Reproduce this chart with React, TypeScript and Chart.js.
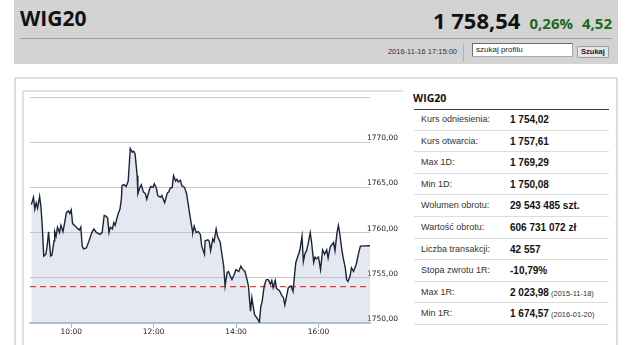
import React, { useEffect, useRef } from "react";
import { Chart, registerables } from "chart.js";

Chart.register(...registerables);

// ---- data ----
const indexName = "WIG20";
const lastPrice = "1 758,54";
const changePct = "0,26%";
const changeAbs = "4,52";
const quoteTime = "2016-11-16 17:15:00";
const referenceLevel = 1754.02;

const sessionStart = "9:00";
const sessionEnd = "17:15";

const times = [
  "9:02", "9:05", "9:07", "9:09", "9:11", "9:14", "9:16", "9:18", "9:20", "9:23",
  "9:25", "9:27", "9:30", "9:32", "9:35", "9:36", "9:38", "9:40", "9:43", "9:45",
  "9:48", "9:50", "9:53", "9:56", "9:58", "10:00", "10:02", "10:06", "10:10", "10:12",
  "10:14", "10:16", "10:18", "10:22", "10:26", "10:30", "10:33", "10:37", "10:42", "10:45",
  "10:48", "10:51", "10:53", "10:55", "10:57", "11:00", "11:02", "11:04", "11:08", "11:11",
  "11:13", "11:14", "11:17", "11:20", "11:23", "11:26", "11:29", "11:31", "11:33", "11:36",
  "11:37", "11:40", "11:42", "11:45", "11:48", "11:50", "11:54", "11:56", "11:59", "12:01",
  "12:04", "12:06", "12:10", "12:12", "12:15", "12:16", "12:20", "12:22", "12:24", "12:27",
  "12:29", "12:32", "12:34", "12:36", "12:39", "12:41", "12:45", "12:48", "12:50", "12:53",
  "12:56", "12:57", "12:59", "13:02", "13:05", "13:08", "13:10", "13:14", "13:15", "13:19",
  "13:21", "13:23", "13:26", "13:28", "13:31", "13:33", "13:37", "13:39", "13:42", "13:44",
  "13:47", "13:49", "13:51", "13:54", "13:57", "14:00", "14:04", "14:07", "14:10", "14:13",
  "14:16", "14:18", "14:21", "14:23", "14:25", "14:27", "14:30", "14:34", "14:36", "14:38",
  "14:41", "14:44", "14:47", "14:50", "14:52", "14:54", "14:57", "14:59", "15:03", "15:07",
  "15:09", "15:11", "15:14", "15:16", "15:20", "15:23", "15:25", "15:27", "15:31", "15:33",
  "15:36", "15:38", "15:40", "15:43", "15:45", "15:48", "15:50", "15:53", "15:55", "15:57",
  "16:00", "16:03", "16:06", "16:09", "16:12", "16:14", "16:17", "16:19", "16:22", "16:24",
  "16:27", "16:29", "16:31", "16:34", "16:36", "16:39", "16:41", "16:43", "16:46", "16:48",
  "16:51", "16:55", "16:58", "17:01", "17:15",
];

const values = [
  1763.1, 1763.9, 1762.6, 1763.3, 1762.7, 1764.0, 1762.8, 1760.5, 1757.4, 1757.6,
  1758.5, 1760.1, 1757.4, 1757.5, 1759.1, 1760.1, 1759.6, 1760.6, 1760.0, 1760.8,
  1760.1, 1760.9, 1762.2, 1762.4, 1762.1, 1762.5, 1761.0, 1760.7, 1760.4, 1760.3,
  1760.6, 1758.5, 1758.2, 1758.3, 1759.1, 1760.0, 1760.4, 1760.0, 1759.8, 1760.0,
  1761.9, 1761.8, 1761.6, 1760.0, 1760.6, 1760.4, 1761.1, 1760.8, 1762.0, 1762.6,
  1763.7, 1765.2, 1765.3, 1765.1, 1765.7, 1769.3, 1768.9, 1769.0, 1768.7, 1766.3,
  1764.3, 1765.0, 1765.3, 1764.5, 1764.3, 1763.7, 1764.8, 1765.1, 1765.0, 1765.4,
  1764.9, 1764.1, 1763.9, 1764.1, 1763.5, 1763.3, 1764.4, 1764.5, 1764.9, 1765.0,
  1766.3, 1765.7, 1765.9, 1765.6, 1765.8, 1765.2, 1765.0, 1764.3, 1763.3, 1761.8,
  1760.4, 1760.0, 1760.7, 1760.0, 1760.1, 1759.8, 1758.5, 1757.6, 1759.1, 1759.2,
  1759.0, 1758.0, 1759.3, 1759.0, 1760.4, 1759.6, 1758.9, 1757.8, 1756.3, 1754.1,
  1755.6, 1755.7, 1755.3, 1754.8, 1755.3, 1755.9, 1755.7, 1756.3, 1755.9, 1755.7,
  1754.8, 1754.1, 1751.3, 1752.8, 1751.8, 1750.9, 1750.6, 1750.1, 1751.8, 1752.4,
  1754.1, 1754.8, 1754.8, 1754.3, 1754.7, 1753.9, 1754.7, 1753.8, 1753.6, 1753.0,
  1752.8, 1752.0, 1753.1, 1753.9, 1754.1, 1753.5, 1755.2, 1756.7, 1757.6, 1758.1,
  1759.6, 1756.8, 1757.6, 1758.1, 1758.8, 1760.0, 1758.9, 1756.7, 1757.3, 1757.1,
  1757.3, 1755.9, 1758.1, 1757.6, 1758.1, 1757.2, 1758.4, 1758.6, 1758.9, 1758.0,
  1760.0, 1760.8, 1759.9, 1758.1, 1757.2, 1756.1, 1754.8, 1754.6, 1755.2, 1756.1,
  1755.7, 1756.5, 1757.6, 1758.5, 1758.54,
];

const xTickLabels = ["10:00", "12:00", "14:00", "16:00"];
const yTickValues = [1750, 1755, 1760, 1765, 1770, 1775];

const tableLabels = [
  "Kurs odniesienia:",
  "Kurs otwarcia:",
  "Max 1D:",
  "Min 1D:",
  "Wolumen obrotu:",
  "Wartość obrotu:",
  "Liczba transakcji:",
  "Stopa zwrotu 1R:",
  "Max 1R:",
  "Min 1R:",
];
const tableValues = [
  "1 754,02",
  "1 757,61",
  "1 769,29",
  "1 750,08",
  "29 543 485 szt.",
  "606 731 072 zł",
  "42 557",
  "-10,79%",
  "2 023,98",
  "1 674,57",
];
const tableNotes = ["", "", "", "", "", "", "", "", "(2015-11-18)", "(2016-01-20)"];

// ---- helpers ----
const toMinutes = (t: string) => {
  const [h, m] = t.split(":").map(Number);
  return h * 60 + m;
};
const toLabel = (mins: number) => {
  const h = Math.floor(mins / 60);
  const m = Math.round(mins % 60);
  return `${h < 10 ? "0" + h : h}:${m < 10 ? "0" + m : m}`;
};
const fmtLevel = (v: number) => v.toFixed(2).replace(".", ",");

const AXIS_FONT = "'DejaVu Sans', 'Liberation Sans', sans-serif";

function PriceChart() {
  const ref = useRef<HTMLCanvasElement | null>(null);
  useEffect(() => {
    if (!ref.current) return;
    const xMin = toMinutes(sessionStart);
    const xMax = toMinutes(sessionEnd);
    const series = times.map((t, i) => ({ x: toMinutes(t), y: values[i] }));
    const refLine = [
      { x: xMin, y: referenceLevel },
      { x: xMax, y: referenceLevel },
    ];
    const chart = new Chart(ref.current, {
      type: "line",
      data: {
        datasets: [
          {
            data: series,
            borderColor: "#1b2437",
            borderWidth: 1.4,
            backgroundColor: "rgba(178,188,214,0.34)",
            fill: "start",
            pointRadius: 0,
            tension: 0,
            order: 0,
          },
          {
            data: refLine,
            borderColor: "rgba(228,40,40,0.9)",
            borderWidth: 1.3,
            borderDash: [6, 4],
            fill: false,
            pointRadius: 0,
            order: 1,
          },
        ],
      },
      options: {
        animation: false,
        responsive: false,
        maintainAspectRatio: false,
        devicePixelRatio: 1,
        layout: { padding: { left: 6, top: 5, right: 0, bottom: 0 } },
        plugins: {
          legend: { display: false },
          tooltip: { enabled: false },
          filler: { drawTime: "beforeDatasetsDraw" },
        } as any,
        scales: {
          x: {
            type: "linear",
            min: xMin,
            max: xMax,
            afterBuildTicks: (s: any) => {
              s.ticks = xTickLabels.map((l) => ({ value: toMinutes(l) }));
            },
            afterFit: (s: any) => {
              s.height = 22;
            },
            grid: {
              drawOnChartArea: false,
              drawTicks: true,
              tickLength: 5,
              color: "#a8bcd4",
              lineWidth: 1,
            },
            border: { display: true, color: "#a8bcd4", width: 1.5 },
            ticks: {
              autoSkip: false,
              maxRotation: 0,
              padding: 0,
              color: "#222",
              font: { family: AXIS_FONT, size: 7.5 },
              callback: (v: any) => toLabel(Number(v)),
            },
          },
          y: {
            position: "right",
            min: yTickValues[0],
            max: yTickValues[yTickValues.length - 1],
            afterBuildTicks: (s: any) => {
              s.ticks = yTickValues.map((v) => ({ value: v }));
            },
            afterFit: (s: any) => {
              s.width = 32;
              // let the labels overlap the end of the grid lines (no clipping to the axis box)
              s._computeLabelArea = () => undefined;
            },
            grid: { color: "#c8c8c8", lineWidth: 1, drawTicks: false },
            border: { display: false },
            ticks: {
              padding: -3,
              labelOffset: -4,
              color: "#222",
              font: { family: AXIS_FONT, size: 7.5 },
              callback: (v: any) =>
                Number(v) === yTickValues[yTickValues.length - 1] ? "" : fmtLevel(Number(v)),
            },
          },
        },
      } as any,
    });
    return () => chart.destroy();
  }, []);
  return (
    <canvas
      ref={ref}
      width={378}
      height={253}
      style={{ position: "absolute", left: 24, top: 92, width: 378, height: 253 }}
    />
  );
}

const abs = (s: React.CSSProperties): React.CSSProperties => ({ position: "absolute", ...s });

export default function App() {
  const rowTop = 109;
  const rowH = 21.6;
  return (
    <div
      style={{
        position: "fixed",
        left: 0,
        top: 0,
        width: 640,
        height: 345,
        overflow: "hidden",
        background: "#fff",
        fontFamily: "'Liberation Sans', Arial, sans-serif",
      }}
    >
      {/* header band */}
      <div style={abs({ left: 14, top: 0, width: 604, height: 64, background: "#d3d3d3" })} />
      <div
        style={abs({
          left: 20,
          top: 8,
          fontFamily: "'Open Sans', sans-serif",
          fontWeight: 700,
          fontSize: 21,
          lineHeight: "21px",
          color: "#111",
        })}
      >
        {indexName}
      </div>
      <div
        style={abs({
          right: 28,
          top: 8.5,
          display: "flex",
          alignItems: "baseline",
          gap: 9,
          fontFamily: "'Open Sans', sans-serif",
          fontWeight: 700,
          whiteSpace: "nowrap",
        })}
      >
        <span style={{ fontSize: 22, lineHeight: "22px", color: "#111" }}>{lastPrice}</span>
        <span style={{ fontSize: 15, lineHeight: "15px", color: "#1c6b1c" }}>{changePct}</span>
        <span style={{ fontSize: 15, lineHeight: "15px", color: "#1c6b1c" }}>{changeAbs}</span>
      </div>
      <div style={abs({ left: 20, top: 38, width: 592, height: 1, background: "#97a09b" })} />
      <div
        style={abs({
          right: 183,
          top: 48,
          fontSize: 7.5,
          lineHeight: "8px",
          color: "#333",
          whiteSpace: "nowrap",
        })}
      >
        {quoteTime}
      </div>
      <div style={abs({ left: 463, top: 43, width: 1, height: 19, background: "#b3b3b3" })} />
      <div
        style={abs({
          left: 472,
          top: 43,
          width: 101,
          height: 14,
          boxSizing: "border-box",
          background: "#fff",
          borderTop: "1px solid #6e6e6e",
          borderLeft: "1px solid #6e6e6e",
          borderRight: "1px solid #a9a9a9",
          borderBottom: "1px solid #a9a9a9",
          fontSize: 8,
          lineHeight: "12px",
          paddingLeft: 3,
          color: "#222",
          whiteSpace: "nowrap",
        })}
      >
        szukaj profilu
      </div>
      <div
        style={abs({
          left: 577,
          top: 46,
          width: 32,
          height: 12,
          boxSizing: "border-box",
          background: "#e6e6e6",
          border: "1px solid #9c9c9c",
          borderRadius: 1,
          fontSize: 7.5,
          fontWeight: 700,
          lineHeight: "10px",
          textAlign: "center",
          color: "#222",
        })}
      >
        Szukaj
      </div>

      {/* panels */}
      <div
        style={abs({
          left: 14,
          top: 77,
          width: 604,
          height: 300,
          boxSizing: "border-box",
          border: "2px solid #dedede",
        })}
      />
      <div
        style={abs({
          left: 22,
          top: 90,
          width: 381,
          height: 300,
          boxSizing: "border-box",
          borderTop: "2px solid #e1e1e1",
          borderLeft: "2px solid #e1e1e1",
        })}
      />

      <PriceChart />

      {/* info table */}
      <div
        style={abs({
          left: 413,
          top: 92,
          fontFamily: "'Open Sans', sans-serif",
          fontWeight: 700,
          fontSize: 10.5,
          lineHeight: "12px",
          color: "#111",
        })}
      >
        {indexName}
      </div>
      <div style={abs({ left: 414, top: 108.5, width: 195, height: 1, background: "#3c3c3c" })} />
      {tableLabels.map((label, i) => (
        <div
          key={label}
          style={abs({
            left: 414,
            top: rowTop + rowH * i,
            width: 195,
            height: rowH,
            boxSizing: "border-box",
            borderBottom: "1px solid #dcdcdc",
            lineHeight: `${rowH}px`,
            whiteSpace: "nowrap",
          })}
        >
          <span style={abs({ left: 7, top: 0, fontSize: 9, color: "#333" })}>{label}</span>
          <span style={abs({ left: 96, top: 0, fontSize: 10, fontWeight: 700, color: "#111" })}>
            {tableValues[i]}
            {tableNotes[i] ? (
              <span style={{ fontSize: 7.5, fontWeight: 400, color: "#333" }}> {tableNotes[i]}</span>
            ) : null}
          </span>
        </div>
      ))}
    </div>
  );
}
